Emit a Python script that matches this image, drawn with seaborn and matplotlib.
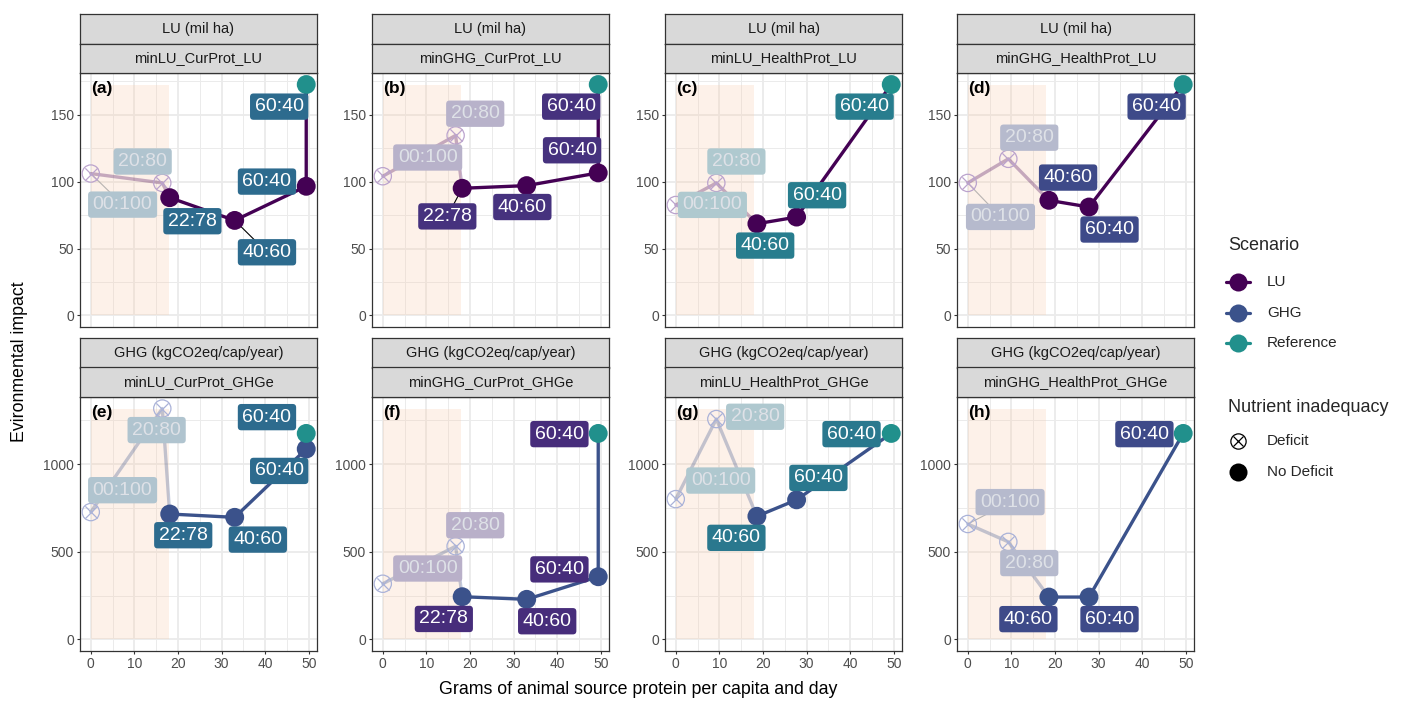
import matplotlib
matplotlib.use("Agg")
import matplotlib.pyplot as plt
import numpy as np
import pandas as pd
import seaborn as sns
from matplotlib.patches import Rectangle
from matplotlib.colors import to_rgb

sns.set_theme(style="ticks")
plt.rcParams['font.family'] = ['Liberation Sans', 'DejaVu Sans']

# ---------------- data ----------------
panel_ids = ["a", "b", "c", "d", "e", "f", "g", "h"]
panel_titles = ["minLU_CurProt_LU", "minGHG_CurProt_LU", "minLU_HealthProt_LU", "minGHG_HealthProt_LU",
                "minLU_CurProt_GHGe", "minGHG_CurProt_GHGe", "minLU_HealthProt_GHGe", "minGHG_HealthProt_GHGe"]
row_titles = ["LU (mil ha)", "GHG (kgCO2eq/cap/year)"]

ratios_cur = ["00:100", "20:80", "22:78", "40:60", "60:40"]
ratios_health = ["00:100", "20:80", "40:60", "60:40"]
deficit_cur = [True, True, False, False, False]
deficit_health = [True, True, False, False]

# grams of animal source protein per capita and day
x_minLU_CurProt = [0.0, 16.4, 18.1, 33.0, 49.4]
x_minGHG_CurProt = [0.0, 16.7, 18.2, 33.0, 49.4]
x_minLU_HealthProt = [0.0, 9.3, 18.6, 27.7]
x_minGHG_HealthProt = [0.0, 9.3, 18.6, 27.8]

# land use (mil ha)
lu_minLU_CurProt = [106, 99, 88, 71, 96.5]
lu_minGHG_CurProt = [104, 134.5, 95, 97, 106.5]
lu_minLU_HealthProt = [82.5, 99, 68.5, 73.5]
lu_minGHG_HealthProt = [99, 117, 86, 81]

# GHG emissions (kgCO2eq/cap/year)
ghg_minLU_CurProt = [727, 1318, 716, 697, 1087]
ghg_minGHG_CurProt = [318, 532, 244, 229, 358]
ghg_minLU_HealthProt = [801, 1258, 703, 797]
ghg_minGHG_HealthProt = [659, 557, 242, 242]

# reference diet
ref_x = 49.4
ref_label = "60:40"
ref_lu = 172.5
ref_ghg = 1176

# nutrient-deficit zone on the protein axis
deficit_zone = [0, 18]

panel_x = [x_minLU_CurProt, x_minGHG_CurProt, x_minLU_HealthProt, x_minGHG_HealthProt] * 2
panel_y = [lu_minLU_CurProt, lu_minGHG_CurProt, lu_minLU_HealthProt, lu_minGHG_HealthProt,
           ghg_minLU_CurProt, ghg_minGHG_CurProt, ghg_minLU_HealthProt, ghg_minGHG_HealthProt]
panel_lab = [ratios_cur, ratios_cur, ratios_health, ratios_health] * 2
panel_def = [deficit_cur, deficit_cur, deficit_health, deficit_health] * 2
row_ref = [ref_lu, ref_ghg]

# ---------------- styling / layout ----------------
C_LU, C_GHG, C_REF = "#440154", "#3B528B", "#21908C"
row_color = [C_LU, C_GHG]
row_marker_faded = ["#BBA3CD", "#AAB2D8"]
label_fill = {"a": "#2D6B8E", "b": "#46327E", "c": "#287D8E", "d": "#3E4A89",
              "e": "#2D6B8E", "f": "#472D7B", "g": "#2A788E", "h": "#3E4A89"}

# label centres (points first, then reference)
label_xy = {
    "a": [(7.3, 82.8), (11.9, 115), (23.3, 70.4), (40.4, 47.2), (40.4, 100), (43.2, 156)],
    "b": [(10.3, 118), (21.2, 150.7), (14.8, 74), (32.0, 81), (43.4, 123.4), (43.2, 156)],
    "c": [(8.4, 82.6), (13.9, 115), (20.5, 52.2), (32.4, 89.8), (43.3, 156)],
    "d": [(7.5, 73.6), (14.1, 132.8), (23.0, 103), (32.5, 64.2), (43.3, 156)],
    "e": [(7.3, 852), (15.1, 1195), (21.2, 595), (38.3, 570), (43.2, 962), (40.4, 1269)],
    "f": [(10.3, 405), (21.2, 652), (14.0, 117), (37.7, 104), (40.5, 400), (40.5, 1172)],
    "g": [(10.3, 907), (18.2, 1271), (13.9, 580), (32.7, 922), (40.3, 1172)],
    "h": [(9.7, 784), (14.1, 436), (13.9, 116), (32.5, 116), (40.5, 1172)],
}
leaders = {"a": [0, 3], "b": [2], "d": [0], "h": [0]}

W, H = 1403, 701
COL_X = [80, 372, 665, 957]
ROW_Y = [73, 397]
PW, PH = 237, 254
STRIP_H = 29.5

fig = plt.figure(figsize=(W / 100, H / 100), dpi=100)


def px_box(x0, y0, w, h):
    return [x0 / W, 1 - (y0 + h) / H, w / W, h / H]


def faded(c, a=0.33, dim=0.95):
    return tuple((a * v + (1 - a)) * dim for v in to_rgb(c))


xr = max(max(v) for v in panel_x + [[ref_x]])
xlim = (-0.05 * xr, xr * 1.05)
row_max = [max(max(max(panel_y[i]) for i in range(4)), ref_lu),
           max(max(max(panel_y[i]) for i in range(4, 8)), ref_ghg)]
y_major = [[0, 50, 100, 150], [0, 500, 1000]]
y_minor = [[25, 75, 125, 175], [250, 750, 1250]]

for i, pid in enumerate(panel_ids):
    row, col = divmod(i, 4)
    ax = fig.add_axes(px_box(COL_X[col], ROW_Y[row], PW, PH))
    ax.set_facecolor("white")
    ymax = row_max[row]
    ax.set_xlim(*xlim)
    ax.set_ylim(-0.05 * ymax, 1.05 * ymax)
    ax.set_xticks([0, 10, 20, 30, 40, 50])
    ax.set_xticks([5, 15, 25, 35, 45], minor=True)
    ax.set_yticks(y_major[row])
    ax.set_yticks(y_minor[row], minor=True)
    ax.grid(which="major", color="#EBEBEB", lw=1.3, zorder=0)
    ax.grid(which="minor", color="#EBEBEB", lw=0.7, zorder=0)
    ax.set_axisbelow(True)
    for s in ax.spines.values():
        s.set_color("#333333")
        s.set_linewidth(0.9)
        s.set_visible(True)
    ax.tick_params(which="major", length=2.2, width=0.8, color="#333333",
                   labelsize=10, labelcolor="#4D4D4D", pad=2)
    ax.tick_params(which="minor", length=0)
    if row == 0:
        ax.tick_params(axis="x", which="major", labelbottom=False, length=0)

    # deficit zone
    ax.add_patch(Rectangle((deficit_zone[0], 0), deficit_zone[1] - deficit_zone[0], ymax,
                           facecolor="#F9C9A8", alpha=0.25, edgecolor="none", zorder=1))

    xs, ys, labs, defs = panel_x[i], panel_y[i], panel_lab[i], panel_def[i]
    ry = row_ref[row]
    k = defs.index(False)
    lc = row_color[row]

    faded_df = pd.DataFrame({"x": xs[:k + 1], "y": ys[:k + 1]})
    sns.lineplot(data=faded_df, x="x", y="y", sort=False, estimator=None, color=lc,
                 alpha=0.3, lw=2.4, ax=ax, zorder=2)
    solid_df = pd.DataFrame({"x": xs[k:] + [ref_x], "y": ys[k:] + [ry]})
    sns.lineplot(data=solid_df, x="x", y="y", sort=False, estimator=None, color=lc,
                 lw=2.4, ax=ax, zorder=2.2)

    # label positions and leader lines
    lxy = label_xy[pid]
    all_x = xs + [ref_x]
    all_y = ys + [ry]
    for j in leaders.get(pid, []):
        is_def = j < len(defs) and defs[j]
        ax.plot([all_x[j], lxy[j][0]], [all_y[j], lxy[j][1]],
                color=("#9A9A9A" if is_def else "black"), lw=0.8,
                alpha=(0.7 if is_def else 1), zorder=2.5)

    def_df = pd.DataFrame({"x": [x for x, d in zip(xs, defs) if d],
                           "y": [y for y, d in zip(ys, defs) if d]})
    ok_df = pd.DataFrame({"x": [x for x, d in zip(xs, defs) if not d],
                          "y": [y for y, d in zip(ys, defs) if not d]})
    sns.scatterplot(data=def_df, x="x", y="y", marker="o", s=155, facecolors="none",
                    edgecolor=row_marker_faded[row], linewidth=0.9, ax=ax, zorder=3)
    sns.scatterplot(data=def_df, x="x", y="y", marker="x", s=78, color=row_marker_faded[row],
                    linewidth=0.9, ax=ax, zorder=3)
    sns.scatterplot(data=ok_df, x="x", y="y", marker="o", s=185, color=lc,
                    edgecolor="none", linewidth=0, ax=ax, zorder=3.2)
    sns.scatterplot(x=[ref_x], y=[ry], marker="o", s=185, color=C_REF,
                    edgecolor="none", linewidth=0, ax=ax, zorder=3.4)

    fill = label_fill[pid]
    texts = labs + [ref_label]
    for j, t in enumerate(texts):
        is_def = j < len(defs) and defs[j]
        fc = faded(fill) if is_def else fill
        tc = "#DEE1E7" if is_def else "white"
        ax.text(lxy[j][0], lxy[j][1], t, ha="center", va="center", fontsize=14, color=tc,
                bbox=dict(boxstyle="round,pad=0.24,rounding_size=0.18", fc=fc, ec="none"),
                zorder=5)

    ax.text(0, ymax * 0.985, f"({pid})", fontsize=12.5, fontweight="bold", ha="left",
            va="center", color="black", zorder=6)
    ax.set_xlabel("")
    ax.set_ylabel("")

    # facet strips
    for s_i, st in enumerate([row_titles[row], panel_titles[i]]):
        y0 = ROW_Y[row] - STRIP_H * (2 - s_i)
        sax = fig.add_axes(px_box(COL_X[col], y0, PW, STRIP_H))
        sax.set_facecolor("#D9D9D9")
        sax.set_xticks([])
        sax.set_yticks([])
        for s in sax.spines.values():
            s.set_color("#333333")
            s.set_linewidth(0.9)
            s.set_visible(True)
        sax.text(0.5, 0.5, st, ha="center", va="center", fontsize=10.5, color="#1A1A1A",
                 transform=sax.transAxes)

# axis titles
fig.text(638 / W, 1 - 690 / H, "Grams of animal source protein per capita and day",
         ha="center", va="center", fontsize=12.8, color="black")
fig.text(20 / W, 1 - 362 / H, "Evironmental impact", ha="center", va="center",
         rotation=90, fontsize=12.8, color="black")

# legends drawn in figure pixel space
lg = fig.add_axes([0, 0, 1, 1], facecolor="none")
lg.set_xlim(0, W)
lg.set_ylim(H, 0)
lg.axis("off")
lg.text(1228, 246, "Scenario", fontsize=13, ha="left", va="center")
for yy, name, c in [(282, "LU", C_LU), (313, "GHG", C_GHG), (343, "Reference", C_REF)]:
    lg.plot([1226, 1250], [yy, yy], color=c, lw=2.3)
    lg.plot([1238], [yy], marker="o", ms=13, color=c, mec="none")
    lg.text(1267, yy, name, fontsize=11, ha="left", va="center")
lg.text(1228, 408, "Nutrient inadequacy", fontsize=13, ha="left", va="center")
lg.plot([1238], [441], marker="o", ms=11, mfc="none", mec="black", mew=0.9)
lg.plot([1238], [441], marker="x", ms=7.8, color="black", mew=0.9)
lg.text(1267, 441, "Deficit", fontsize=11, ha="left", va="center")
lg.plot([1238], [472], marker="o", ms=13, color="black", mec="none")
lg.text(1267, 472, "No Deficit", fontsize=11, ha="left", va="center")

fig.savefig("out.png", dpi=100, facecolor="white")
